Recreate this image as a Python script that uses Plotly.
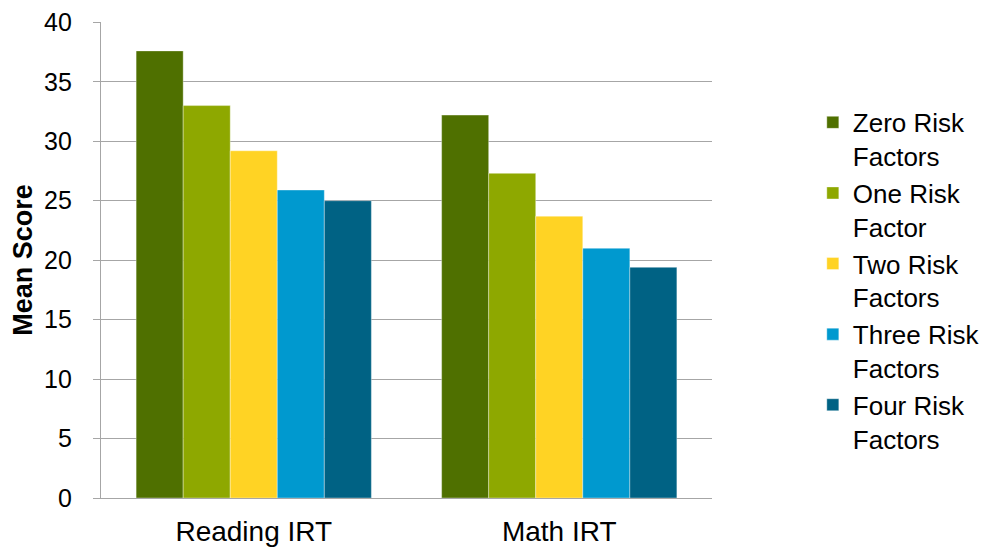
import plotly.graph_objects as go

categories = ["Reading IRT", "Math IRT"]
series_names = ["Zero Risk<br>Factors", "One Risk<br>Factor", "Two Risk<br>Factors",
                "Three Risk<br>Factors", "Four Risk<br>Factors"]
zero_risk = [37.6, 32.2]
one_risk = [33.0, 27.3]
two_risk = [29.2, 23.7]
three_risk = [25.9, 21.0]
four_risk = [25.0, 19.4]
colors = ["#4F7000", "#8EA800", "#FFD324", "#0099CF", "#006284"]
y_ticks = [0, 5, 10, 15, 20, 25, 30, 35, 40]

fig = go.Figure()
for i, (name, vals, c) in enumerate(zip(series_names, [zero_risk, one_risk, two_risk, three_risk, four_risk], colors)):
    fig.add_trace(go.Bar(x=categories, y=vals, name=name, legendgroup=f"g{i}",
                         marker=dict(color=c, line=dict(width=0.6, color="rgba(255,255,255,0.6)"))))

fig.update_layout(
    width=986, height=540,
    barmode="group", bargap=0.23, bargroupgap=0,
    plot_bgcolor="white", paper_bgcolor="white",
    margin=dict(l=93, r=282, t=14, b=50, autoexpand=False),
    font=dict(family="Liberation Sans, Arial, sans-serif", color="#000000"),
    legend=dict(x=1.165, xanchor="left", y=0.456, yanchor="middle", valign="top",
                font=dict(size=26), tracegroupgap=0, itemwidth=30),
    showlegend=True,
)
fig.update_yaxes(range=[0, 40.03], tickvals=y_ticks, showgrid=True, gridcolor="#A6A6A6", gridwidth=1.3,
                 showline=True, linecolor="#A6A6A6", linewidth=1.3, ticks="outside", ticklen=7,
                 tickcolor="#A6A6A6", tickfont=dict(size=25), ticklabelstandoff=16,
                 title=dict(text="<b>Mean Score</b>", font=dict(size=27), standoff=5), zeroline=False)
fig.update_xaxes(showline=True, linecolor="#A6A6A6", linewidth=1.3, tickfont=dict(size=28), ticks="",
                 ticklabelstandoff=8)

fig.write_html("out.html")
